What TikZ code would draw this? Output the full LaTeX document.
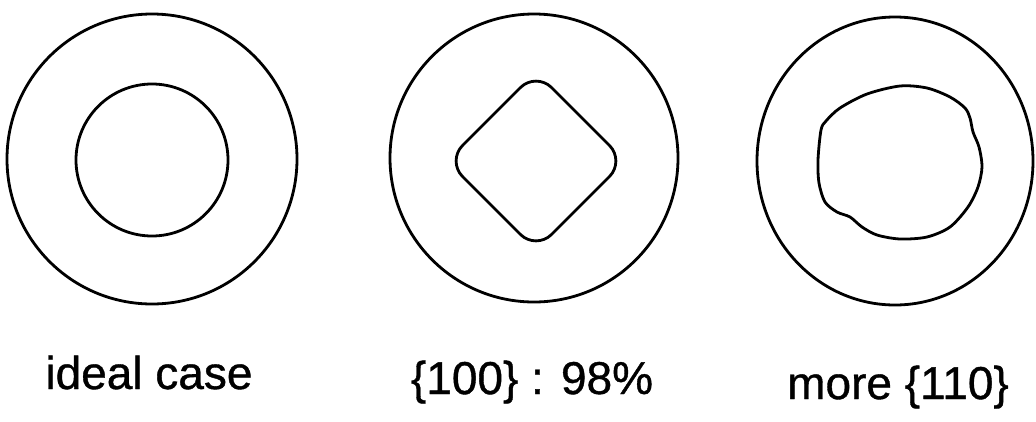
\documentclass[tikz,border=0pt]{standalone}
\usepackage{fontspec}
\setmainfont{Liberation Sans}
\newfontfamily\labfont{Liberation Sans}[FakeBold=0.8]
\begin{document}
\begin{tikzpicture}[x=1pt,y=-1pt,
  ring/.style={draw=black,line width=2.8pt},
  lab/.style={anchor=base,inner sep=0pt,font=\labfont\fontsize{46}{50}\selectfont}]
\useasboundingbox (0,0) rectangle (1036,421);
% ideal case
\draw[ring] (152,159) circle[radius=145pt];
\draw[ring] (152,160) circle[radius=76pt];
% {100} : 98%
\draw[ring] (534,158) circle[radius=144pt];
\draw[ring,rounded corners=22pt] (536,72) -- (625,161) -- (536,250) -- (447,161) -- cycle;
% more {110}
\draw[ring] (895,161) ellipse[x radius=138pt,y radius=144pt];
\draw[ring] plot[smooth cycle,tension=0.5] coordinates {
  (900,86) (927,88) (950,97) (965,108) (970,118) (973,132) (979,147)
  (982,167) (978,187) (968,207) (950,227) (927,237) (900,239) (877,235)
  (862,227) (850,217) (837,212) (825,202) (819,183) (818,160) (821,130)
  (826,121) (840,108) (867,94)};
% labels
\node[lab] (l1) at (149,389) {ideal case};
\node[lab] (l2) at (532,394) {\{100\} : 98\%};
\node[lab] (l3) at (898,399) {more \{110\}};
\end{tikzpicture}
\end{document}
